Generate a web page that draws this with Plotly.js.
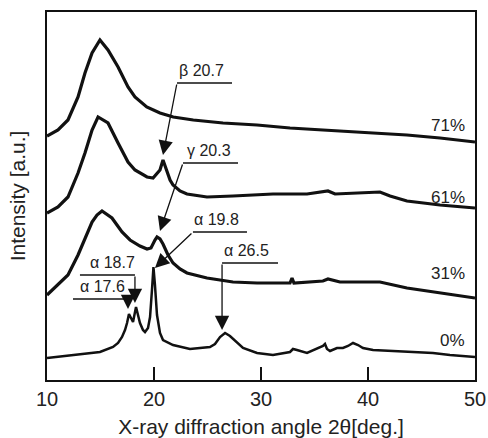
<!DOCTYPE html>
<html>
<head>
<meta charset="utf-8">
<script src="https://cdn.plot.ly/plotly-3.0.1.min.js"></script>
<style>html,body{margin:0;padding:0;background:#fff;}#chart{width:488px;height:438px;}</style>
</head>
<body>
<div id="chart"></div>
<script>
// ---- data (2θ in degrees, intensity in arbitrary units incl. stacking offset) ----
const seriesNames = ["71%", "61%", "31%", "0%"];

const x71 = [10.0,11.03,11.96,12.9,13.55,14.21,14.95,15.7,16.64,17.57,18.22,19.32,20.56,21.8,23.67,26.45,29.63,32.71,35.79,38.32,40.47,43.64,46.73,50.0];
const y71 = [244,250,260,283,307,327,340,330,313,293,283,273,267,263,260,257,255,252,250,248,247,245,242,238];

const x61 = [10.0,11.03,11.96,12.9,13.55,14.21,14.77,15.7,16.64,17.57,18.22,19.35,19.91,20.56,20.84,21.21,21.5,21.78,22.43,23.08,24.95,27.38,31.12,34.3,36.26,36.92,41.12,42.06,43.64,46.73,50.0];
const y61 = [167,173,183,207,227,250,263,257,237,218,210,203,202,210,220,210,200,195,189,186,183,184,186,186,189,186,188,184,179,175,172];

const x31 = [10.0,11.03,11.96,12.9,13.55,14.21,14.67,15.14,16.07,17.01,17.76,18.69,19.35,19.72,20.09,20.28,20.56,20.84,21.31,21.78,22.43,23.08,24.95,27.38,29.63,32.71,32.9,33.08,35.79,36.26,37.38,41.12,43.64,46.73,50.0];
const y31 = [85,95,105,125,142,158,165,169,162,148,140,134,131,132,140,143,141,136,125,117,111,107,102,98,97,97,102,97,99,101,98,98,92,87,82];

const x0 = [10.0,12.43,14.95,16.17,16.64,17.01,17.29,17.48,17.66,17.85,18.04,18.32,18.5,18.69,18.97,19.16,19.44,19.63,19.81,19.95,20.09,20.28,20.56,20.84,21.78,23.36,25.23,25.7,26.17,26.64,27.1,27.57,28.32,29.63,31.12,32.71,32.99,33.36,34.3,35.79,35.98,36.17,36.45,37.1,37.66,38.13,38.6,39.07,39.53,40.47,43.64,46.07,47.66,50.0];
const y0 = [22,25,28,33,37,43,50,57,66,62,58,73,66,57,50,48,52,63,90,113,95,65,47,40,35,31,33,36,43,47,44,39,32,27,25,28,31,30,27,34,36,31,29,32,32,34,37,35,32,30,28,27,25,23];

// series label positions (intensity level near right edge)
const seriesLabelY = [255, 183, 107, 40];

// peak annotations
const peakLabels = ["β 20.7", "γ 20.3", "α 19.8", "α 26.5", "α 18.7", "α 17.6"];
const peakTipX   = [20.84, 20.56, 20.09, 26.36, 18.22, 17.57];
const peakTipY   = [225, 149, 112, 50, 77, 71];
// label underline: start x, end x, y; arrow leaves from the line end nearest the peak
const lineX0 = [22.15, 22.71, 23.64, 26.36, 13.08, 12.43];
const lineX1 = [27.29, 27.85, 28.69, 31.59, 18.22, 17.57];
const lineY  = [297, 217, 148, 117, 105, 81];
const tailX  = [22.15, 22.71, 23.64, 26.36, 18.22, 17.57];
const textX  = [22.15, 22.9, 23.55, 26.36, 13.83, 12.9];

const xTicks = [10, 20, 30, 40, 50];

const font = "Liberation Sans, Arial, sans-serif";
const ink = "#111";
const txt = "#222";

const xs = [x71, x61, x31, x0];
const ys = [y71, y61, y31, y0];
const traces = xs.map((x, i) => ({
  x: x, y: ys[i], type: "scatter", mode: "lines", name: seriesNames[i],
  line: {color: ink, width: i === 3 ? 2.5 : 3.2, shape: "linear"},
  hoverinfo: "skip"
}));

const annotations = [];
const shapes = [];
seriesNames.forEach((s, i) => {
  annotations.push({x: 49.25, y: seriesLabelY[i], xref: "x", yref: "y", text: s, showarrow: false,
    xanchor: "right", yanchor: "middle", font: {family: font, size: 17, color: txt}});
});
peakLabels.forEach((lab, i) => {
  annotations.push({x: textX[i], y: lineY[i] + 2, xref: "x", yref: "y", text: lab, showarrow: false,
    xanchor: "left", yanchor: "bottom", font: {family: font, size: 16, color: txt}});
  shapes.push({type: "line", xref: "x", yref: "y", x0: lineX0[i], x1: lineX1[i], y0: lineY[i], y1: lineY[i],
    line: {color: ink, width: 1.3}});
  annotations.push({x: peakTipX[i], y: peakTipY[i], xref: "x", yref: "y", ax: tailX[i], ay: lineY[i],
    axref: "x", ayref: "y", text: "", showarrow: true, arrowhead: 2, arrowsize: 2.2, arrowwidth: 1.3,
    arrowcolor: ink, standoff: 0, startstandoff: 0});
});

const layout = {
  width: 488, height: 438,
  margin: {l: 47, r: 13, t: 12, b: 58},
  paper_bgcolor: "#fff", plot_bgcolor: "#fff",
  showlegend: false,
  font: {family: font, color: txt},
  xaxis: {
    range: [10, 50], tickvals: xTicks, ticktext: xTicks.map(String),
    ticks: "inside", ticklen: 13, tickwidth: 2, tickcolor: ink,
    showline: true, linecolor: ink, linewidth: 2, mirror: true,
    showgrid: false, zeroline: false,
    tickfont: {family: font, size: 20, color: txt},
    title: {text: "X-ray diffraction angle 2θ[deg.]", font: {family: font, size: 21, color: txt}, standoff: 10}
  },
  yaxis: {
    range: [0, 368], showticklabels: false, ticks: "",
    showline: true, linecolor: ink, linewidth: 2, mirror: true,
    showgrid: false, zeroline: false,
    title: {text: "Intensity [a.u.]", font: {family: font, size: 21, color: txt}, standoff: 14}
  },
  annotations: annotations,
  shapes: shapes
};

Plotly.newPlot("chart", traces, layout, {displayModeBar: false, staticPlot: true});
</script>
</body>
</html>
